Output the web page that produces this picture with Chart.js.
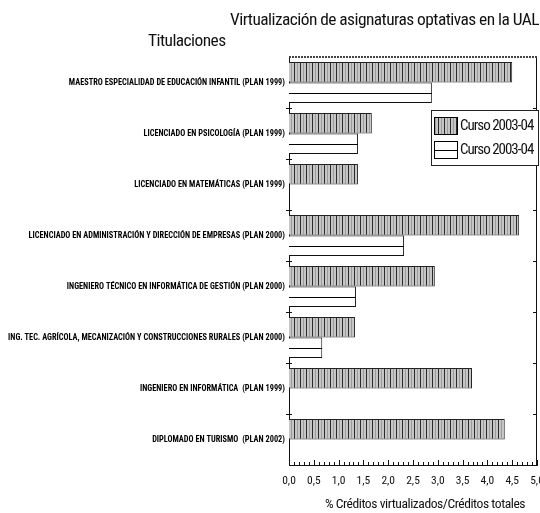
<!DOCTYPE html>
<html>
<head>
<meta charset="utf-8">
<script src="https://cdn.jsdelivr.net/npm/chart.js@4.4.1/dist/chart.umd.min.js"></script>
<style>
  html, body { margin: 0; padding: 0; background: #fff; }
  #wrap { width: 540px; height: 513px; }
</style>
</head>
<body>
<div id="wrap"><canvas id="chart"></canvas></div>
<script>
const FONT = '"Roboto Condensed", "Liberation Sans", Arial, sans-serif';

const titulaciones = [
  'MAESTRO ESPECIALIDAD DE EDUCACIÓN INFANTIL (PLAN 1999)',
  'LICENCIADO EN PSICOLOGÍA (PLAN 1999)',
  'LICENCIADO EN MATEMÁTICAS (PLAN 1999)',
  'LICENCIADO EN ADMINISTRACIÓN Y DIRECCIÓN DE EMPRESAS (PLAN 2000)',
  'INGENIERO TÉCNICO EN INFORMÁTICA DE GESTIÓN (PLAN 2000)',
  'ING. TEC. AGRÍCOLA, MECANIZACIÓN Y CONSTRUCCIONES RURALES (PLAN 2000)',
  'INGENIERO EN INFORMÁTICA  (PLAN 1999)',
  'DIPLOMADO EN TURISMO  (PLAN 2002)'
];
const serieGris = [4.5, 1.67, 1.39, 4.64, 2.94, 1.33, 3.69, 4.35];
const serieBlanca = [2.88, 1.39, null, 2.32, 1.35, 0.67, null, null];
const etiquetas = ['Curso 2003-04', 'Curso 2003-04'];
const titulo = 'Virtualización de asignaturas optativas en la UAL';
const tituloEje = 'Titulaciones';
const tituloX = '% Créditos virtualizados/Créditos totales';

// rayas verticales de las barras grises
const makeStripes = () => {
  const c = document.createElement('canvas');
  c.width = 6; c.height = 6;
  const g = c.getContext('2d');
  g.fillStyle = '#c6c6c6';
  g.fillRect(0, 0, 6, 6);
  g.fillStyle = '#9c9c9c';
  g.fillRect(3, 0, 1, 6);
  g.fillStyle = '#2a2a2a';
  g.fillRect(0, 0, 1, 6);
  return g.createPattern(c, 'repeat');
};
const stripes = makeStripes();

const extras = {
  id: 'extras',
  afterDatasetsDraw(chart) {
    const ctx = chart.ctx;
    const a = chart.chartArea;
    const xs = chart.scales.x;
    const n = titulaciones.length;
    ctx.save();
    // linea central de las barras blancas
    ctx.strokeStyle = '#000';
    ctx.lineWidth = 1;
    chart.getDatasetMeta(1).data.forEach((el, i) => {
      if (serieBlanca[i] == null) return;
      ctx.beginPath();
      ctx.moveTo(el.base, Math.round(el.y) + 0.5);
      ctx.lineTo(el.x, Math.round(el.y) + 0.5);
      ctx.stroke();
    });
    // marco
    ctx.strokeStyle = '#111';
    ctx.beginPath();
    ctx.moveTo(a.right - 0.5, a.top); ctx.lineTo(a.right - 0.5, a.bottom);
    ctx.stroke();
    ctx.lineWidth = 2;
    ctx.setLineDash([2, 1]);
    ctx.strokeStyle = '#444';
    ctx.beginPath();
    ctx.moveTo(a.left, a.top); ctx.lineTo(a.right, a.top);
    ctx.stroke();
    ctx.setLineDash([]);
    ctx.lineWidth = 1;
    ctx.strokeStyle = '#111';
    // marcas del eje x
    for (let i = 0; i <= 50; i++) {
      const x = Math.round(xs.getPixelForValue(i / 10)) + 0.5;
      const len = i % 5 === 0 ? 5 : 3;
      ctx.beginPath();
      ctx.moveTo(x, a.bottom); ctx.lineTo(x, a.bottom - len);
      ctx.stroke();
    }
    // marcas del eje y en los limites de cada banda
    const band = (a.bottom - a.top) / n;
    for (let i = 1; i < n; i++) {
      const y = Math.round(a.top + band * i) + 0.5;
      ctx.beginPath();
      ctx.moveTo(a.left - 3, y); ctx.lineTo(a.left + 3, y);
      ctx.moveTo(a.right - 4, y); ctx.lineTo(a.right, y);
      ctx.stroke();
    }
    // leyenda
    const lx = 431, ly = 110, lw = 107, lh = 55;
    ctx.fillStyle = '#fff';
    ctx.fillRect(lx, ly, lw, lh);
    ctx.strokeStyle = '#222';
    ctx.strokeRect(lx + 0.5, ly + 0.5, lw, lh);
    const fills = [stripes, '#fff'];
    chart.data.datasets.forEach((ds, i) => {
      const sy = ly + 7 + i * 24;
      ctx.fillStyle = fills[i];
      ctx.fillRect(434, sy, 23, 17);
      ctx.strokeStyle = '#000';
      ctx.strokeRect(434.5, sy + 0.5, 23, 17);
      if (i === 1) {
        ctx.beginPath();
        ctx.moveTo(434, sy + 9.5); ctx.lineTo(457, sy + 9.5);
        ctx.stroke();
      }
      ctx.fillStyle = '#111';
      ctx.font = '15px ' + FONT;
      ctx.letterSpacing = '-1px';
      ctx.textAlign = 'left';
      ctx.textBaseline = 'middle';
      ctx.fillText(ds.label, 460, sy + 9);
    });
    // titulos
    ctx.font = '17.4px ' + FONT;
    ctx.letterSpacing = '-0.55px';
    ctx.textAlign = 'left';
    ctx.textBaseline = 'middle';
    ctx.fillText(titulo, 230, 21);
    ctx.fillText(tituloEje, 148, 42);
    ctx.font = '13.6px ' + FONT;
    ctx.letterSpacing = '-0.45px';
    ctx.textAlign = 'center';
    ctx.fillText(tituloX, 425, 505);
    ctx.letterSpacing = '0px';
    ctx.restore();
  }
};

new Chart(document.getElementById('chart'), {
  type: 'bar',
  data: {
    labels: titulaciones,
    datasets: [
      {
        label: etiquetas[0],
        data: serieGris,
        backgroundColor: stripes,
        borderColor: '#222',
        borderWidth: 1
      },
      {
        label: etiquetas[1],
        data: serieBlanca,
        backgroundColor: '#fff',
        borderColor: '#111',
        borderWidth: 1
      }
    ]
  },
  plugins: [extras],
  options: {
    indexAxis: 'y',
    responsive: true,
    maintainAspectRatio: false,
    animation: false,
    categoryPercentage: 0.8,
    barPercentage: 1,
    layout: { padding: { top: 57, right: 3, left: 0, bottom: 0 } },
    plugins: {
      legend: { display: false },
      tooltip: { enabled: false }
    },
    scales: {
      x: {
        min: 0,
        max: 5,
        afterFit: s => { s.height = 48; s.paddingLeft = 0; s.paddingRight = 0; },
        grid: { display: false, drawTicks: false },
        border: { display: true, color: '#111', width: 1 },
        ticks: {
          stepSize: 0.5,
          padding: 9,
          color: '#111',
          font: { family: FONT, size: 11.5 },
          callback: v => v.toFixed(1).replace('.', ',')
        }
      },
      y: {
        afterFit: s => { s.width = 289; },
        grid: { display: false, drawTicks: false },
        border: { display: true, color: '#111', width: 1 },
        ticks: {
          padding: 4,
          color: '#000',
          font: { family: FONT, size: 8.3, weight: 'bold' }
        }
      }
    }
  }
});
</script>
</body>
</html>
